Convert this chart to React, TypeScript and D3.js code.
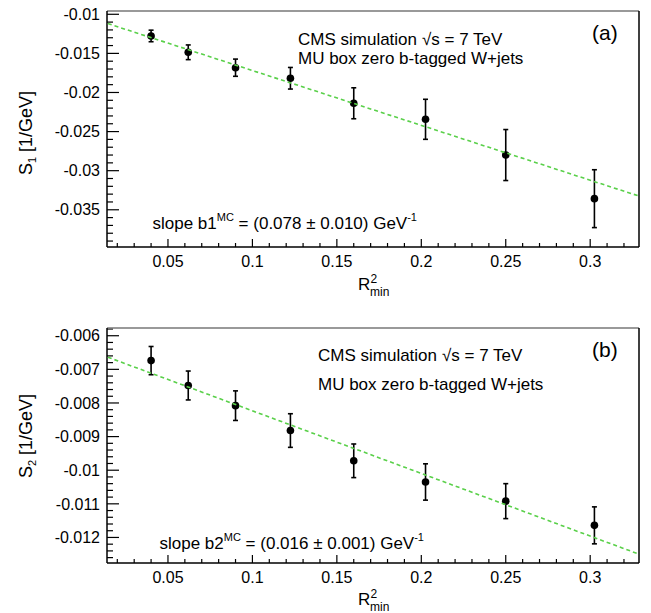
import React from "react";
import * as d3 from "d3";

// ---------- data ----------
const rMin = [0.04, 0.062, 0.09, 0.1225, 0.16, 0.2025, 0.25, 0.3025];

const s1Values = [-0.01277, -0.01486, -0.01683, -0.01818, -0.02138, -0.02343, -0.028, -0.03358];
const s1Errors = [0.00074, 0.00094, 0.0011, 0.00138, 0.00198, 0.00256, 0.00326, 0.0037];
const s1Fit = { intercept: -0.01018, slope: -0.07013 };

const s2Values = [-0.00674, -0.00748, -0.00808, -0.00882, -0.00972, -0.01035, -0.01092, -0.01164];
const s2Errors = [0.00042, 0.00043, 0.00044, 0.0005, 0.0005, 0.00054, 0.00052, 0.00055];
const s2Fit = { intercept: -0.00637, slope: -0.01863 };

const xTicks = [0.05, 0.1, 0.15, 0.2, 0.25, 0.3];
const xTickLabels = ["0.05", "0.1", "0.15", "0.2", "0.25", "0.3"];

const yTicksA = [-0.035, -0.03, -0.025, -0.02, -0.015, -0.01];
const yTickLabelsA = ["-0.035", "-0.03", "-0.025", "-0.02", "-0.015", "-0.01"];
const yTicksB = [-0.012, -0.011, -0.01, -0.009, -0.008, -0.007, -0.006];
const yTickLabelsB = ["-0.012", "-0.011", "-0.01", "-0.009", "-0.008", "-0.007", "-0.006"];

const xDomain: [number, number] = [0.0139, 0.3289];
const yDomainA: [number, number] = [-0.03976, -0.00958];
const yDomainB: [number, number] = [-0.01276, -0.00577];

const FONT = "'Liberation Sans', Arial, Helvetica, sans-serif";
const GREEN = "#5ad04a";

type PanelProps = {
  top: number;
  bottom: number;
  yDomain: [number, number];
  yTicks: number[];
  yTickLabels: string[];
  yMinorStep: number;
  values: number[];
  errors: number[];
  fit: { intercept: number; slope: number };
  sub: string;
  tag: string;
  slopeName: string;
  slopeText: string;
  textY1: number;
  textY2: number;
  textX: number;
  tagY: number;
  slopeX: number;
  slopeY: number;
  xTitleY: number;
  yTitleCenter: number;
  xLabelOffset: number;
};

const LEFT = 107;
const RIGHT = 639;

function Panel(p: PanelProps) {
  const x = d3.scaleLinear().domain(xDomain).range([LEFT, RIGHT]);
  const y = d3.scaleLinear().domain(p.yDomain).range([p.bottom, p.top]);

  const xMinor = d3
    .range(Math.ceil(xDomain[0] * 100), Math.floor(xDomain[1] * 100) + 1)
    .map((k) => k / 100);
  const invStep = 1 / p.yMinorStep;
  const yMinor = d3
    .range(Math.ceil(p.yDomain[0] * invStep - 1e-9), Math.floor(p.yDomain[1] * invStep + 1e-9) + 1)
    .map((k) => k / invStep);

  const line = d3
    .line<number>()
    .x((v) => x(v))
    .y((v) => y(p.fit.intercept + p.fit.slope * v));

  const isMajor = (v: number, arr: number[]) => arr.some((t) => Math.abs(t - v) < 1e-9);

  return (
    <g>
      {xMinor.map((v, i) => {
        const maj = isMajor(v, xTicks);
        return (
          <line
            key={"xm" + i}
            x1={x(v)}
            x2={x(v)}
            y1={p.bottom}
            y2={p.bottom - (maj ? 8 : 4)}
            stroke="#000"
            strokeWidth={1.2}
          />
        );
      })}
      {yMinor.map((v, i) => {
        const maj = isMajor(v, p.yTicks);
        return (
          <line
            key={"ym" + i}
            x1={LEFT}
            x2={LEFT + (maj ? 12 : 6)}
            y1={y(v)}
            y2={y(v)}
            stroke="#000"
            strokeWidth={1.2}
          />
        );
      })}
      {xTicks.map((v, i) => (
        <text
          key={"xl" + i}
          x={x(v)}
          y={p.bottom + p.xLabelOffset}
          textAnchor="middle"
          fontSize={16}
          fontFamily={FONT}
        >
          {xTickLabels[i]}
        </text>
      ))}
      {p.yTicks.map((v, i) => (
        <text
          key={"yl" + i}
          x={LEFT - 7}
          y={y(v) + 5.7}
          textAnchor="end"
          fontSize={16}
          fontFamily={FONT}
        >
          {p.yTickLabels[i]}
        </text>
      ))}
      <line x1={LEFT} x2={RIGHT} y1={p.top} y2={p.top} stroke="#777" strokeWidth={1.5} />
      <line x1={RIGHT} x2={RIGHT} y1={p.top} y2={p.bottom} stroke="#000" strokeWidth={1.5} />
      <line x1={LEFT} x2={RIGHT} y1={p.bottom} y2={p.bottom} stroke="#000" strokeWidth={1.5} />
      <line x1={LEFT} x2={LEFT} y1={p.top} y2={p.bottom} stroke="#000" strokeWidth={1.5} />

      {rMin.map((r, i) => {
        const cx = x(r);
        const y1 = y(p.values[i] + p.errors[i]);
        const y2 = y(p.values[i] - p.errors[i]);
        return (
          <g key={"pt" + i}>
            <line x1={cx} x2={cx} y1={y1} y2={y2} stroke="#000" strokeWidth={1.6} />
            <line x1={cx - 2.5} x2={cx + 2.5} y1={y1} y2={y1} stroke="#000" strokeWidth={1.6} />
            <line x1={cx - 2.5} x2={cx + 2.5} y1={y2} y2={y2} stroke="#000" strokeWidth={1.6} />
            <circle cx={cx} cy={y(p.values[i])} r={3.8} fill="#000" />
          </g>
        );
      })}

      <path
        d={line([xDomain[0] + 0.0005, xDomain[1] - 0.0005]) || ""}
        fill="none"
        stroke={GREEN}
        strokeWidth={1.6}
        strokeDasharray="4,3"
      />

      <text x={p.textX} y={p.textY1} fontSize={17} fontFamily={FONT}>
        CMS simulation
      </text>
      <text x={p.textX + 124} y={p.textY1} fontSize={17} fontFamily={FONT}>
        √s = 7 TeV
      </text>
      <text x={p.textX} y={p.textY2} fontSize={17} fontFamily={FONT}>
        MU box zero b-tagged W+jets
      </text>
      <text x={592} y={p.tagY} fontSize={21} fontFamily={FONT}>
        {p.tag}
      </text>
      <text x={p.slopeX} y={p.slopeY} fontSize={17} fontFamily={FONT}>
        {p.slopeName}
        <tspan fontSize={11} dy={-8}>MC</tspan>
        <tspan dy={8}>{" = " + p.slopeText + " GeV"}</tspan>
        <tspan fontSize={11} dy={-8}>-1</tspan>
      </text>

      <text x={358} y={p.xTitleY} fontSize={17} fontFamily={FONT}>R</text>
      <text x={370.5} y={p.xTitleY - 7} fontSize={12} fontFamily={FONT}>2</text>
      <text x={370} y={p.xTitleY + 6} fontSize={12} fontFamily={FONT}>min</text>

      <text
        transform={`translate(32,${p.yTitleCenter}) rotate(-90)`}
        textAnchor="middle"
        fontSize={18}
        fontFamily={FONT}
      >
        S<tspan fontSize={11} dy={4}>{p.sub}</tspan>
        <tspan dy={-4}>{" [1/GeV]"}</tspan>
      </text>
    </g>
  );
}

export default function App() {
  return (
    <svg
      width={651}
      height={613}
      style={{ display: "block", background: "#fff", marginTop: -8, marginLeft: -8 }}
    >
      <Panel
        top={11}
        bottom={247}
        yDomain={yDomainA}
        yTicks={yTicksA}
        yTickLabels={yTickLabelsA}
        yMinorStep={0.001}
        values={s1Values}
        errors={s1Errors}
        fit={s1Fit}
        sub="1"
        tag="(a)"
        slopeName="slope b1"
        slopeText="(0.078 ± 0.010)"
        textX={298}
        textY1={45}
        textY2={63.5}
        tagY={39.5}
        slopeX={152.5}
        slopeY={228.5}
        xTitleY={290}
        yTitleCenter={133}
        xLabelOffset={19.5}
      />
      <Panel
        top={328}
        bottom={563}
        yDomain={yDomainB}
        yTicks={yTicksB}
        yTickLabels={yTickLabelsB}
        yMinorStep={0.0002}
        values={s2Values}
        errors={s2Errors}
        fit={s2Fit}
        sub="2"
        tag="(b)"
        slopeName="slope b2"
        slopeText="(0.016 ± 0.001)"
        textX={318}
        textY1={361}
        textY2={390}
        tagY={357}
        slopeX={159.5}
        slopeY={549}
        xTitleY={604.5}
        yTitleCenter={436}
        xLabelOffset={20}
      />
    </svg>
  );
}
